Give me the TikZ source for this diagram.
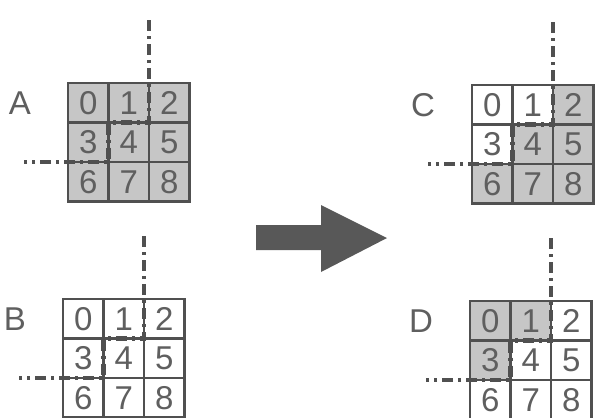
\documentclass[tikz,border=0pt]{standalone}
\usepackage{fontspec}
\setmainfont{Liberation Sans}
\usetikzlibrary{positioning}
\definecolor{cellon}{RGB}{198,198,198}
\definecolor{celloff}{RGB}{255,255,255}
\definecolor{linegrey}{RGB}{80,80,80}
\definecolor{textgrey}{RGB}{95,95,95}
\definecolor{arrowgrey}{RGB}{88,88,88}
\tikzset{
  cell/.style={draw=linegrey, line width=1.4pt, minimum width=20.25pt,
    minimum height=19.75pt, inner sep=0pt, outer sep=0pt, text=textgrey,
    font=\fontsize{16.5}{16.5}\selectfont},
  gridname/.style={text=textgrey, font=\fontsize{16.5}{16.5}\selectfont},
  cutline/.style={draw=linegrey, line width=2.2pt,
    dash pattern=on 5.5pt off 2.5pt on 1.5pt off 2.5pt}
}
\begin{document}
\begin{tikzpicture}[x=0.5pt, y=-0.5pt]
\clip (0,0) rectangle (595,418);
\fill[white] (0,0) rectangle (595,418);

\foreach \g/\gx/\gy/\fills in {
    A/68/83/{cellon,cellon,cellon,cellon,cellon,cellon,cellon,cellon,cellon},
    B/63/299/{celloff,celloff,celloff,celloff,celloff,celloff,celloff,celloff,celloff},
    C/472/85/{celloff,celloff,cellon,celloff,cellon,cellon,cellon,cellon,cellon},
    D/470/301/{cellon,cellon,celloff,cellon,celloff,celloff,celloff,celloff,celloff}}
{
  \foreach \f [count=\i from 0] in \fills {
    \pgfmathtruncatemacro{\col}{mod(\i,3)}
    \pgfmathtruncatemacro{\row}{div(\i,3)}
    \node[cell, fill=\f, anchor=north west] (\g\i)
      at (\gx+\col*40.5, \gy+\row*39.5) {\i};
  }
  \node[gridname, left=15pt of \g0] (\g name) {\g};
  % the cut runs down, steps left twice, and leaves on the left
  \coordinate[above=31.5pt of \g2.north west] (\g top);
  \coordinate[left=22pt of \g6.north west] (\g end);
  \draw[cutline] (\g top) -- (\g2.north west) -- (\g4.north east)
    -- (\g4.north west) -- (\g6.north east) -- (\g end);
}

\fill[arrowgrey] (256,225) -- (321,225) -- (321,205) -- (387,238)
  -- (321,272) -- (321,250) -- (256,250) -- cycle;
\end{tikzpicture}
\end{document}
